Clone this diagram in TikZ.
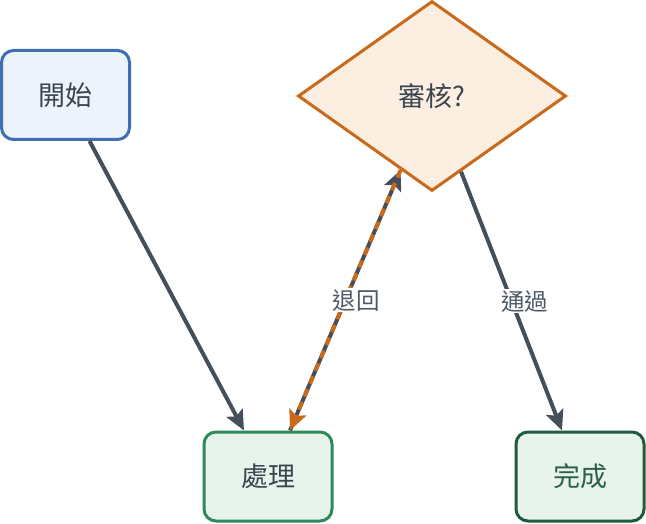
\documentclass[tikz,border=0pt]{standalone}
\usepackage{fontspec}
\setmainfont{Noto Sans CJK TC}
\usetikzlibrary{shapes.geometric,arrows.meta}
\definecolor{edgegray}{HTML}{444F5A}
\definecolor{txtgray}{HTML}{3A4550}
\definecolor{lblgray}{HTML}{4D5864}
\definecolor{orng}{HTML}{C8691C}
\definecolor{orfill}{HTML}{FCEFE2}
\definecolor{bluebd}{HTML}{3F6FB0}
\definecolor{bluefill}{HTML}{EDF3FB}
\definecolor{greenbd}{HTML}{2F8A5B}
\definecolor{greenfill}{HTML}{E8F3EC}
\definecolor{dgreenbd}{HTML}{1F5C3E}
\definecolor{dgreentxt}{HTML}{2A6045}
\newcommand{\lowtxt}[1]{\raisebox{-3pt}{#1}}
\tikzset{
  box/.style={rectangle, rounded corners=12pt, line width=3pt, minimum width=128pt, minimum height=89pt, font=\fontsize{27}{30}\selectfont, text=txtgray, inner sep=0pt},
  decide/.style={diamond, line width=3pt, draw=orng, fill=orfill, minimum width=268pt, minimum height=190pt, inner sep=0pt, font=\fontsize{27}{30}\selectfont, text=txtgray},
  conn/.style={line width=4pt, draw=edgegray, -{Stealth[length=20pt,width=18pt,inset=4pt]}},
  back/.style={line width=4pt, draw=orng, dash pattern=on 8pt off 6pt, -{Stealth[length=20pt,width=18pt,inset=4pt]}},
  lbl/.style={fill=white, text=lblgray, font=\fontsize{23.5}{26}\selectfont, inner sep=1pt}
}
\begin{document}
\begin{tikzpicture}[x=1pt,y=-1pt]
\useasboundingbox (0,0) rectangle (646,524);
\node[box, draw=bluebd, fill=bluefill] (start) at (65.5,95) {\lowtxt{開始}};
\node[decide] (rev) at (432,96) {\lowtxt{審核?}};
\node[box, draw=greenbd, fill=greenfill] (proc) at (268,476.5) {\lowtxt{處理}};
\node[box, draw=dgreenbd, fill=greenfill, text=dgreentxt] (done) at (580,476.5) {\lowtxt{完成}};
\draw[conn] ([xshift=24pt]start.south) -- ([xshift=-24pt]proc.north);
\draw[conn] (rev.-69.3) -- node[lbl, pos=0.5, xshift=13pt] (lpass) {通過} ([xshift=-18pt]done.north);
\draw[conn] ([xshift=22pt]proc.north) -- (rev.-113.4);
\draw[back] (rev.-113.4) -- node[lbl, pos=0.5, xshift=11pt] (lback) {退回} ([xshift=22pt]proc.north);
\end{tikzpicture}
\end{document}
